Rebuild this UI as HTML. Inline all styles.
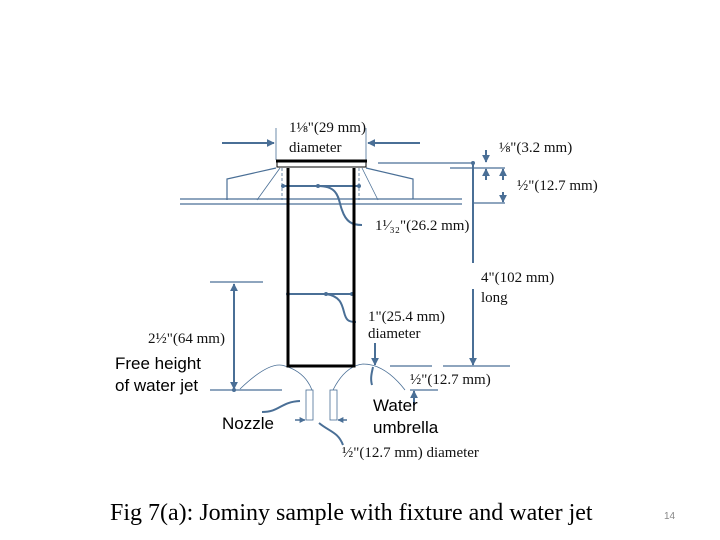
<!DOCTYPE html>
<html><head><meta charset="utf-8"><style>
html,body{margin:0;padding:0;background:#fff;}
svg{display:block;}
.s{font-family:"Liberation Serif",serif;font-size:15px;fill:#111;}
.a{font-family:"Liberation Sans",sans-serif;font-size:17px;fill:#000;}
</style></head><body>
<svg width="720" height="540" viewBox="0 0 720 540" xmlns="http://www.w3.org/2000/svg">
<defs>
<marker id="ar" viewBox="0 0 10 10" refX="9" refY="5" markerWidth="4" markerHeight="4" orient="auto"><path d="M0,0L10,5L0,10z" fill="#4a6f96"/></marker>
</defs>
<g stroke="#4a6f96" fill="none" stroke-width="1.2">
<line x1="180" y1="199" x2="462" y2="199"/>
<line x1="180" y1="204" x2="462" y2="204"/>
<polyline points="227,200 227,179 276,168"/>
<polyline points="366,168 413,179 413,199"/>
<line x1="280" y1="168" x2="257" y2="200" stroke-width="0.8"/>
<line x1="362" y1="168" x2="378" y2="200" stroke-width="0.8"/>
<line x1="282" y1="168" x2="282" y2="200" stroke-dasharray="3,2" stroke-width="0.8"/>
<line x1="359" y1="168" x2="359" y2="200" stroke-dasharray="3,2" stroke-width="0.8"/>
<line x1="276" y1="128" x2="276" y2="160" stroke-width="0.8"/>
<line x1="366" y1="128" x2="366" y2="160" stroke-width="0.8"/>
<line x1="222" y1="143" x2="274" y2="143" stroke-width="2" marker-end="url(#ar)"/>
<line x1="420" y1="143" x2="368" y2="143" stroke-width="2" marker-end="url(#ar)"/>
<line x1="378" y1="163" x2="474" y2="163"/>
<line x1="450" y1="168" x2="505" y2="168"/>
<line x1="473" y1="163" x2="473" y2="263" stroke-width="2"/>
<line x1="473" y1="289" x2="473" y2="365" stroke-width="2" marker-end="url(#ar)"/>
<line x1="473" y1="203" x2="505" y2="203"/>
<line x1="486" y1="150" x2="486" y2="162" stroke-width="2" marker-end="url(#ar)"/>
<line x1="486" y1="180" x2="486" y2="169" stroke-width="2" marker-end="url(#ar)"/>
<line x1="503" y1="180" x2="503" y2="169" stroke-width="2" marker-end="url(#ar)"/>
<line x1="503" y1="192" x2="503" y2="202" stroke-width="2" marker-end="url(#ar)"/>
<line x1="283" y1="186" x2="359" y2="186" stroke-width="2"/>
<path d="M318,186 C340,186 338,200 342,210 C346,222 352,225 362,225" stroke-width="2"/>
<line x1="288" y1="294" x2="352" y2="294" stroke-width="2"/>
<path d="M326,294 C340,296 342,304 344,312 C346,320 348,322 356,322" stroke-width="2"/>
<line x1="390" y1="366" x2="432" y2="366"/>
<line x1="443" y1="366" x2="510" y2="366"/>
<line x1="375" y1="343" x2="375" y2="365" stroke-width="2" marker-end="url(#ar)"/>
<line x1="410" y1="390" x2="438" y2="390"/>
<line x1="414" y1="405" x2="414" y2="391" stroke-width="2" marker-end="url(#ar)"/>
<line x1="210" y1="282" x2="263" y2="282"/>
<line x1="210" y1="390" x2="282" y2="390"/>
<line x1="234" y1="290" x2="234" y2="284" stroke-width="2" marker-end="url(#ar)"/>
<line x1="234" y1="284" x2="234" y2="389" stroke-width="2" marker-end="url(#ar)"/>
<path d="M240,389 Q270,360 285,366 Q305,372 312,390" stroke-width="0.8"/>
<path d="M333,390 Q345,366 363,364 Q385,364 405,390" stroke-width="0.8"/>
<rect x="306" y="390" width="7" height="30" stroke-width="0.8"/>
<rect x="330" y="390" width="7" height="30" stroke-width="0.8"/>
<line x1="295" y1="420" x2="305" y2="420" stroke-width="1.5" marker-end="url(#ar)"/>
<line x1="347" y1="420" x2="338" y2="420" stroke-width="1.5" marker-end="url(#ar)"/>
<path d="M262,412 C280,412 280,402 300,401" stroke-width="2"/>
<path d="M343,445 C338,432 330,432 319,423" stroke-width="2"/>
<path d="M372,385 C370,378 372,372 373,367" stroke-width="2"/>
</g>
<g fill="#4a6f96">
<circle cx="283" cy="186" r="2"/><circle cx="359" cy="186" r="2"/><circle cx="318" cy="186" r="2"/>
<circle cx="288" cy="294" r="2"/><circle cx="352" cy="294" r="2"/><circle cx="326" cy="294" r="2"/>
<circle cx="473" cy="163" r="2"/><circle cx="234" cy="390" r="2"/>
</g>
<rect x="277" y="161" width="89" height="6" fill="#fff" stroke="#000" stroke-width="1"/>
<line x1="276" y1="161" x2="367" y2="161" stroke="#000" stroke-width="3"/>
<g stroke="#000" stroke-width="3" fill="none">
<polyline points="288,168 288,366 354,366 354,168"/>
</g>
<text class="s" x="289" y="132">1⅛"(29 mm)</text>
<text class="s" x="289" y="152">diameter</text>
<text class="s" x="499" y="152">⅛"(3.2 mm)</text>
<text class="s" x="517" y="190">½"(12.7 mm)</text>
<text class="s" x="375" y="230">1¹⁄₃₂"(26.2 mm)</text>
<text class="s" x="481" y="282">4"(102 mm)</text>
<text class="s" x="481" y="302">long</text>
<text class="s" x="368" y="321">1"(25.4 mm)</text>
<text class="s" x="368" y="338">diameter</text>
<text class="s" x="148" y="343">2½"(64 mm)</text>
<text class="s" x="410" y="384">½"(12.7 mm)</text>
<text class="s" x="342" y="457">½"(12.7 mm) diameter</text>
<text class="a" x="115" y="369">Free height</text>
<text class="a" x="115" y="391">of water jet</text>
<text class="a" x="222" y="429">Nozzle</text>
<text class="a" x="373" y="411">Water</text>
<text class="a" x="373" y="433">umbrella</text>
<text x="110" y="520" style="font-family:'Liberation Serif',serif;font-size:24px;fill:#000">Fig 7(a): Jominy sample with fixture and water jet</text>
<text x="664" y="519" style="font-family:'Liberation Sans',sans-serif;font-size:10px;fill:#888">14</text>
</svg>
</body></html>
